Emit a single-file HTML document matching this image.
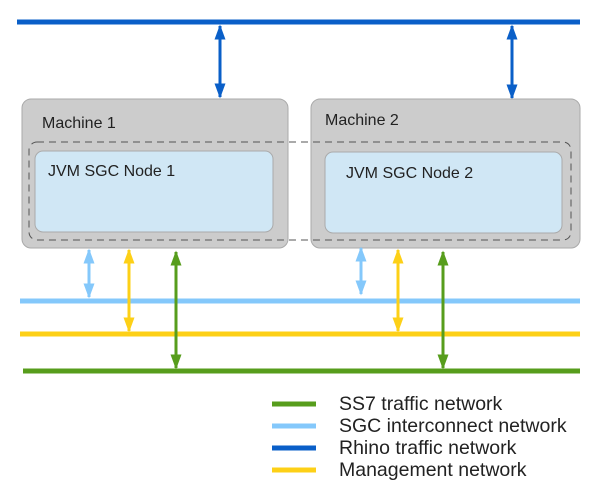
<!DOCTYPE html>
<html><head><style>body{margin:0;background:#fff}svg{display:block}text{font-family:"Liberation Sans",sans-serif;fill:#222}</style></head><body>
<svg width="600" height="500" viewBox="0 0 600 500">
<defs>
<marker id="a1" viewBox="0 0 10 10" refX="9" refY="5" markerWidth="15" markerHeight="11" orient="auto-start-reverse" markerUnits="userSpaceOnUse" preserveAspectRatio="none"><path d="M0,0L10,5L0,10z" fill="#0a5fc8"/></marker>
<marker id="a2" viewBox="0 0 10 10" refX="9" refY="5" markerWidth="15" markerHeight="11" orient="auto-start-reverse" markerUnits="userSpaceOnUse" preserveAspectRatio="none"><path d="M0,0L10,5L0,10z" fill="#84c8fb"/></marker>
<marker id="a3" viewBox="0 0 10 10" refX="9" refY="5" markerWidth="15" markerHeight="11" orient="auto-start-reverse" markerUnits="userSpaceOnUse" preserveAspectRatio="none"><path d="M0,0L10,5L0,10z" fill="#fdd017"/></marker>
<marker id="a4" viewBox="0 0 10 10" refX="9" refY="5" markerWidth="15" markerHeight="11" orient="auto-start-reverse" markerUnits="userSpaceOnUse" preserveAspectRatio="none"><path d="M0,0L10,5L0,10z" fill="#579d1c"/></marker>
</defs>
<line x1="17" y1="22" x2="580" y2="22" stroke="#0a5fc8" stroke-width="5"/>
<line x1="220" y1="26" x2="220" y2="97" stroke="#0a5fc8" stroke-width="3" marker-start="url(#a1)" marker-end="url(#a1)"/>
<line x1="512" y1="26" x2="512" y2="98" stroke="#0a5fc8" stroke-width="3" marker-start="url(#a1)" marker-end="url(#a1)"/>
<rect x="22" y="99" width="266" height="149" rx="9" fill="#cccccc" stroke="#aaa"/>
<rect x="311" y="99" width="269" height="149" rx="9" fill="#cccccc" stroke="#aaa"/>
<rect x="29" y="142" width="542" height="98" rx="8" fill="none" stroke="#555" stroke-dasharray="7,5"/>
<rect x="35" y="151" width="238" height="81" rx="8" fill="#d0e7f5" stroke="#aaa"/>
<rect x="325" y="152" width="237" height="81" rx="8" fill="#d0e7f5" stroke="#aaa"/>
<text x="42" y="128" font-size="16">Machine 1</text>
<text x="325" y="125" font-size="16">Machine 2</text>
<text x="48" y="176" font-size="16">JVM SGC Node 1</text>
<text x="346" y="178" font-size="16">JVM SGC Node 2</text>
<line x1="20" y1="301" x2="580" y2="301" stroke="#84c8fb" stroke-width="5"/>
<line x1="20" y1="334" x2="580" y2="334" stroke="#fdd017" stroke-width="5"/>
<line x1="23" y1="371" x2="580" y2="371" stroke="#579d1c" stroke-width="5"/>
<line x1="89" y1="250" x2="89" y2="297" stroke="#84c8fb" stroke-width="3" marker-start="url(#a2)" marker-end="url(#a2)"/>
<line x1="129" y1="250" x2="129" y2="331" stroke="#fdd017" stroke-width="3" marker-start="url(#a3)" marker-end="url(#a3)"/>
<line x1="176" y1="252" x2="176" y2="368" stroke="#579d1c" stroke-width="3" marker-start="url(#a4)" marker-end="url(#a4)"/>
<line x1="361" y1="248" x2="361" y2="294" stroke="#84c8fb" stroke-width="3" marker-start="url(#a2)" marker-end="url(#a2)"/>
<line x1="398" y1="250" x2="398" y2="331" stroke="#fdd017" stroke-width="3" marker-start="url(#a3)" marker-end="url(#a3)"/>
<line x1="443" y1="252" x2="443" y2="368" stroke="#579d1c" stroke-width="3" marker-start="url(#a4)" marker-end="url(#a4)"/>
<line x1="272" y1="404" x2="316" y2="404" stroke="#579d1c" stroke-width="5"/>
<line x1="272" y1="426" x2="316" y2="426" stroke="#84c8fb" stroke-width="5"/>
<line x1="272" y1="448" x2="316" y2="448" stroke="#0a5fc8" stroke-width="5"/>
<line x1="272" y1="470" x2="316" y2="470" stroke="#fdd017" stroke-width="5"/>
<text x="339" y="410" font-size="19.5">SS7 traffic network</text>
<text x="339" y="432" font-size="19.5">SGC interconnect network</text>
<text x="339" y="454" font-size="19.5">Rhino traffic network</text>
<text x="339" y="476" font-size="19.5">Management network</text>
</svg>
</body></html>
